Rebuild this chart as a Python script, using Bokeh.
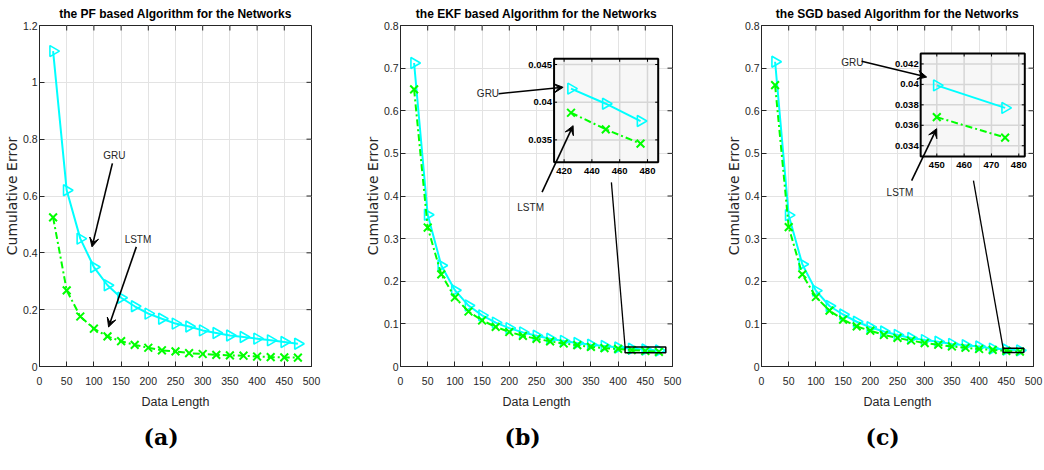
from math import pi
from bokeh.plotting import figure
from bokeh.models import (Range1d, FixedTicker, Arrow, VeeHead, Label, Title, CustomJSTickFormatter)
from bokeh.layouts import row
from bokeh.embed import file_html
from bokeh.resources import INLINE
from bokeh.core.properties import value

# ---------------- data ----------------
data_length = [25, 50, 75, 100, 125, 150, 175, 200, 225, 250, 275, 300, 325, 350, 375, 400, 425, 450, 475]

pf_gru = [1.11, 0.62, 0.45, 0.35, 0.286, 0.242, 0.212, 0.186, 0.168, 0.151, 0.141, 0.127, 0.118, 0.109,
          0.104, 0.098, 0.092, 0.086, 0.080]
pf_lstm = [0.525, 0.268, 0.176, 0.133, 0.106, 0.089, 0.076, 0.066, 0.057, 0.053, 0.047, 0.044, 0.041,
           0.039, 0.038, 0.035, 0.033, 0.032, 0.031]

ekf_gru = [0.712, 0.356, 0.237, 0.179, 0.143, 0.120, 0.103, 0.090, 0.080, 0.072, 0.065, 0.060, 0.055,
           0.051, 0.048, 0.0447, 0.0418, 0.0398, 0.0375]
ekf_lstm = [0.650, 0.326, 0.216, 0.162, 0.129, 0.108, 0.093, 0.081, 0.072, 0.065, 0.059, 0.054, 0.050,
            0.046, 0.043, 0.0412, 0.0386, 0.0364, 0.0345]

sgd_gru = [0.715, 0.355, 0.240, 0.178, 0.142, 0.122, 0.105, 0.092, 0.082, 0.074, 0.067, 0.062, 0.058,
           0.053, 0.050, 0.047, 0.0420, 0.0399, 0.0377]
sgd_lstm = [0.660, 0.327, 0.216, 0.163, 0.131, 0.110, 0.094, 0.084, 0.074, 0.067, 0.061, 0.055, 0.051,
            0.047, 0.044, 0.041, 0.0389, 0.0368, 0.0348]

x_ticks = [0, 50, 100, 150, 200, 250, 300, 350, 400, 450, 500]
pf_y_ticks = [0, 0.2, 0.4, 0.6, 0.8, 1, 1.2]
net_y_ticks = [0, 0.1, 0.2, 0.3, 0.4, 0.5, 0.6, 0.7, 0.8]

titles = ["the PF based Algorithm for the Networks",
          "the EKF based Algorithm for the Networks",
          "the SGD based Algorithm for the Networks"]
captions = ["(a)", "(b)", "(c)"]
x_label = "Data Length"
y_label = "Cumulative Error"
series_names = ["GRU", "LSTM"]

ekf_inset_x_ticks = [420, 440, 460, 480]
ekf_inset_x_labels = ["420", "440", "460", "480"]
ekf_inset_y_ticks = [0.035, 0.04, 0.045]
ekf_inset_y_labels = ["0.035", "0.04", "0.045"]

sgd_inset_x_ticks = [450, 460, 470, 480]
sgd_inset_x_labels = ["450", "460", "470", "480"]
sgd_inset_y_ticks = [0.034, 0.036, 0.038, 0.04, 0.042]
sgd_inset_y_labels = ["0.034", "0.036", "0.038", "0.04", "0.042"]

# ---------------- style ----------------
SANS = "Liberation Sans"
TXT = "#262626"
CYAN = "#00ffff"
GREEN = "#00ff00"
GRID = "#e3e3e3"

fmt = CustomJSTickFormatter(code="return String(Number(tick.toFixed(4)));")


def style_axis(ax, ticks):
    ax.ticker = FixedTicker(ticks=ticks)
    ax.formatter = fmt
    ax.major_tick_in = 5
    ax.major_tick_out = 0
    ax.minor_tick_line_color = None
    ax.axis_line_color = TXT
    ax.major_tick_line_color = TXT
    ax.major_label_text_font = SANS
    ax.major_label_text_font_size = "10.5px"
    ax.major_label_text_color = TXT


def make_panel(title, caption, gru, lstm, yticks, ymax, lb, rb, notes, arrows, inset=None):
    p = figure(frame_width=272, frame_height=341, x_range=Range1d(0, 500), y_range=Range1d(0, ymax),
               output_backend="svg", toolbar_location=None, title=title,
               min_border_left=lb, min_border_right=rb, min_border_top=25, min_border_bottom=100)
    p.outline_line_color = TXT
    p.outline_line_width = 1
    p.background_fill_color = "white"
    p.border_fill_color = "white"
    p.title.align = "center"
    p.title.text_font = SANS
    p.title.text_font_style = "bold"
    p.title.text_font_size = "12px"
    p.title.text_color = "black"
    p.title.standoff = 9

    style_axis(p.xaxis[0], x_ticks)
    style_axis(p.yaxis[0], yticks)
    p.xaxis.major_label_standoff = 10
    p.yaxis.major_label_standoff = 2
    p.xaxis.axis_label = x_label
    p.xaxis.axis_label_text_font = SANS
    p.xaxis.axis_label_text_font_size = "12.5px"
    p.xaxis.axis_label_text_font_style = "normal"
    p.xaxis.axis_label_text_color = TXT
    p.xaxis.axis_label_standoff = 7
    p.yaxis.axis_label = y_label
    p.yaxis.axis_label_text_font = "DejaVu Sans"
    p.yaxis.axis_label_text_font_size = "14px"
    p.yaxis.axis_label_text_font_style = "normal"
    p.yaxis.axis_label_text_color = TXT
    p.yaxis.axis_label_standoff = 0

    p.xgrid.ticker = FixedTicker(ticks=x_ticks)
    p.ygrid.ticker = FixedTicker(ticks=yticks)
    p.grid.grid_line_color = GRID
    p.grid.grid_line_width = 1

    # inward ticks on the top and right edges of the box
    p.ray(x=x_ticks, y=[ymax] * len(x_ticks), length=5, angle=-pi / 2, length_units="screen",
          line_color=TXT, line_width=1)
    p.ray(x=[500] * len(yticks), y=yticks, length=5, angle=pi, length_units="screen",
          line_color=TXT, line_width=1)

    cap = Title(text=caption, align="left", offset=104, text_font="DejaVu Serif",
                text_font_style="bold", text_font_size="22px", text_color="black", standoff=20)
    p.add_layout(cap, "below")

    # main curves
    p.line(data_length, gru, line_color=CYAN, line_width=2)
    p.scatter(data_length, gru, marker="triangle", angle=-pi / 2, size=11, fill_color=None,
              line_color=CYAN, line_width=1.6)
    p.line(data_length, lstm, line_color=GREEN, line_width=2, line_dash="7 3 2 3")
    p.scatter(data_length, lstm, marker="x", size=11, line_color=GREEN, line_width=2)

    if inset is not None:
        (ix0, ix1), (iy0, iy1) = inset["xr"], inset["yr"]
        # zoom box and connector in main coordinates
        p.quad(left=[ix0], right=[ix1], bottom=[iy0], top=[iy1], fill_color=None,
               line_color="black", line_width=1.5)
        cx, cy = inset["conn"]
        p.segment(x0=[cx], y0=[cy], x1=[ix0], y1=[iy1], line_color="black", line_width=1.3)

        sub = p.subplot(x_source=Range1d(ix0, ix1), y_source=Range1d(iy0, iy1),
                        x_target=Range1d(*inset["tx"]), y_target=Range1d(*inset["ty"]))
        sub.quad(left=[ix0], right=[ix1], bottom=[iy0], top=[iy1], fill_color="#f7f7f7",
                 line_color=None)
        xt, yt = inset["xticks"], inset["yticks"]
        sub.segment(x0=xt, y0=[iy0] * len(xt), x1=xt, y1=[iy1] * len(xt), line_color="#d6d6d6",
                    line_width=1.5)
        sub.segment(x0=[ix0] * len(yt), y0=yt, x1=[ix1] * len(yt), y1=yt, line_color="#d6d6d6",
                    line_width=1.5)
        idx = [i for i, x in enumerate(data_length) if ix0 <= x <= ix1]
        xs = [data_length[i] for i in idx]
        sub.line(xs, [gru[i] for i in idx], line_color=CYAN, line_width=2)
        sub.scatter(xs, [gru[i] for i in idx], marker="triangle", angle=-pi / 2, size=11,
                    fill_color=None, line_color=CYAN, line_width=1.6)
        sub.line(xs, [lstm[i] for i in idx], line_color=GREEN, line_width=2, line_dash="7 3 2 3")
        sub.scatter(xs, [lstm[i] for i in idx], marker="x", size=11, line_color=GREEN, line_width=2)
        # inset ticks
        sub.ray(x=xt, y=[iy0] * len(xt), length=3, angle=pi / 2, length_units="screen",
                line_color="black", line_width=1)
        sub.ray(x=xt, y=[iy1] * len(xt), length=3, angle=-pi / 2, length_units="screen",
                line_color="black", line_width=1)
        sub.ray(x=[ix0] * len(yt), y=yt, length=3, angle=0, length_units="screen",
                line_color="black", line_width=1)
        sub.ray(x=[ix1] * len(yt), y=yt, length=3, angle=pi, length_units="screen",
                line_color="black", line_width=1)
        sub.quad(left=[ix0], right=[ix1], bottom=[iy0], top=[iy1], fill_color=None,
                 line_color="black", line_width=2)
        sub.text(x=xt, y=[iy0] * len(xt), text=inset["xlabels"], y_offset=6, text_align="center",
                 text_baseline="top", text_font=value(SANS), text_font_style="bold",
                 text_font_size="9.5px", text_color="black")
        sub.text(x=[ix0] * len(yt), y=yt, text=inset["ylabels"], x_offset=-2, text_align="right",
                 text_baseline="middle", text_font=value(SANS), text_font_style="bold",
                 text_font_size="9.5px", text_color="black")

    for (x, y, t) in notes:
        p.add_layout(Label(x=x, y=y, text=t, text_align="center", text_baseline="middle",
                           text_font=SANS, text_font_size="10px", text_color=TXT))
    for (x0, y0, x1, y1) in arrows:
        p.add_layout(Arrow(end=VeeHead(size=9, fill_color="black", line_color="black", line_width=1),
                           x_start=x0, y_start=y0, x_end=x1, y_end=y1,
                           line_color="black", line_width=1.6))
    return p


pa = make_panel(titles[0], captions[0], pf_gru, pf_lstm, pf_y_ticks, 1.2, 38, 49,
                notes=[(137.5, 0.741, series_names[0]), (181, 0.447, series_names[1])],
                arrows=[(134, 0.715, 96.5, 0.421), (178, 0.421, 127, 0.139)])

pb = make_panel(titles[1], captions[1], ekf_gru, ekf_lstm, net_y_ticks, 0.8, 40, 49,
                notes=[(160.8, 0.640, series_names[0]), (239.2, 0.374, series_names[1])],
                arrows=[(180.3, 0.640, 299, 0.655), (260.2, 0.409, 317.3, 0.565)],
                inset=dict(xr=(412.8, 487.7), yr=(0.03204, 0.04576), tx=(282.3, 473.7),
                           ty=(0.4793, 0.7219), xticks=ekf_inset_x_ticks, yticks=ekf_inset_y_ticks,
                           xlabels=ekf_inset_x_labels, ylabels=ekf_inset_y_labels,
                           conn=(387.7, 0.432)))

pc = make_panel(titles[2], captions[2], sgd_gru, sgd_lstm, net_y_ticks, 0.8, 40, 10,
                notes=[(166.9, 0.714, series_names[0]), (254.5, 0.409, series_names[1])],
                arrows=[(184, 0.716, 303.6, 0.679), (276, 0.436, 322, 0.558)],
                inset=dict(xr=(444.1, 482.2), yr=(0.03295, 0.04302), tx=(292.6, 484.0),
                           ty=(0.4927, 0.7343), xticks=sgd_inset_x_ticks, yticks=sgd_inset_y_ticks,
                           xlabels=sgd_inset_x_labels, ylabels=sgd_inset_y_labels,
                           conn=(389.6, 0.436)))

layout = row(pa, pb, pc, spacing=0)
open("out.html", "w").write(file_html(layout, INLINE))
